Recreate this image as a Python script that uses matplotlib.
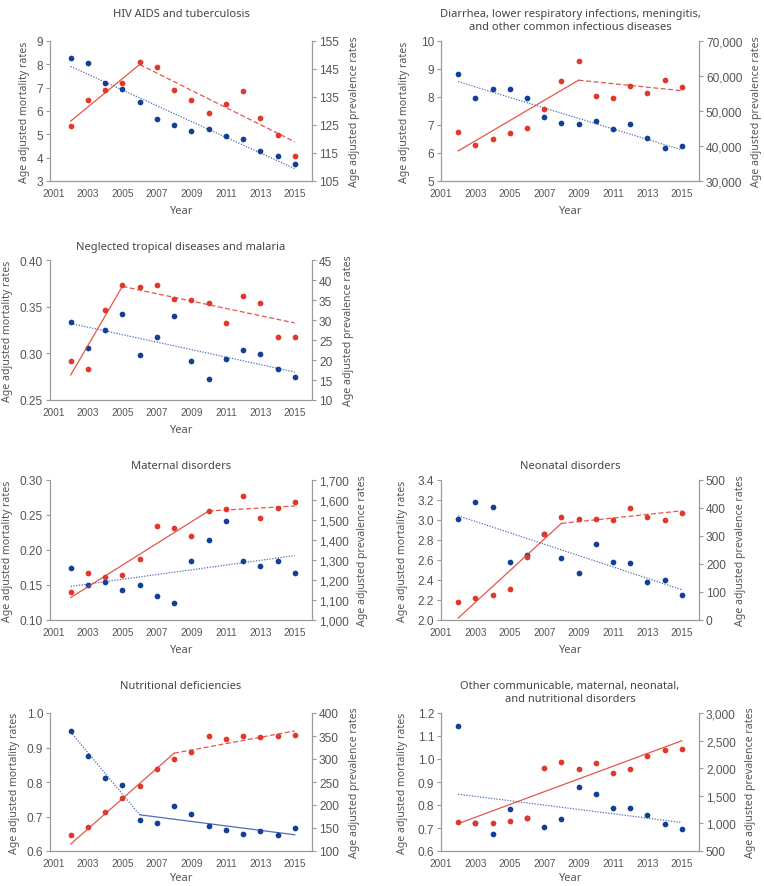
import matplotlib
matplotlib.use("Agg")
import matplotlib.pyplot as plt
from matplotlib.ticker import FuncFormatter

# years shown as points
years = [2002, 2003, 2004, 2005, 2006, 2007, 2008, 2009, 2010, 2011, 2012, 2013, 2014, 2015]
xticks = [2001, 2003, 2005, 2007, 2009, 2011, 2013, 2015]

# HIV AIDS and tuberculosis
hiv_mort = [8.28, 8.04, 7.18, 6.93, 6.40, 5.66, 5.40, 5.15, 5.23, 4.94, 4.78, 4.27, 4.09, 3.71]
hiv_prev = [124.7, 134.1, 137.4, 139.9, 147.6, 145.8, 137.4, 134.0, 129.3, 132.6, 137.2, 127.5, 121.6, 114.1]
hiv_mort_trend_x = [2002, 2015]
hiv_mort_trend = [7.91, 3.53]
hiv_prev_trend_x = [2002, 2006, 2015]
hiv_prev_trend = [126.4, 146.6, 119.0]

# Diarrhea, LRI, meningitis ...
diar_mort = [8.83, 7.96, 8.30, 8.27, 7.95, 7.30, 7.06, 7.02, 7.15, 6.87, 7.02, 6.52, 6.18, 6.25]
diar_prev = [44100, 40300, 41900, 43600, 45100, 50500, 58500, 64300, 54300, 53700, 57100, 55200, 58800, 56800]
diar_mort_trend_x = [2002, 2015]
diar_mort_trend = [8.55, 6.11]
diar_prev_trend_x = [2002, 2009, 2015]
diar_prev_trend = [38600, 58800, 55800]

# Neglected tropical diseases and malaria
ntd_mort = [0.334, 0.306, 0.325, 0.342, 0.298, 0.318, 0.340, 0.292, 0.272, 0.294, 0.304, 0.299, 0.283, 0.275]
ntd_prev = [19.8, 17.7, 32.6, 38.7, 38.3, 38.75, 35.3, 34.9, 34.25, 29.3, 36.0, 34.3, 25.75, 25.75]
ntd_mort_trend_x = [2002, 2015]
ntd_mort_trend = [0.332, 0.280]
ntd_prev_trend_x = [2002, 2005, 2015]
ntd_prev_trend = [16.25, 38.4, 29.25]

# Maternal disorders
mat_mort = [0.174, 0.150, 0.154, 0.143, 0.150, 0.134, 0.124, 0.184, 0.214, 0.242, 0.185, 0.177, 0.185, 0.167]
mat_prev = [1142, 1237, 1217, 1225, 1303, 1470, 1458, 1418, 1545, 1553, 1618, 1508, 1560, 1588]
mat_mort_trend_x = [2002, 2015]
mat_mort_trend = [0.148, 0.192]
mat_prev_trend_x = [2002, 2010, 2015]
mat_prev_trend = [1112, 1545, 1570]

# Neonatal disorders
neo_mort = [3.007, 3.177, 3.13, 2.583, 2.65, 2.86, 2.62, 2.47, 2.763, 2.577, 2.573, 2.383, 2.403, 2.25]
neo_prev = [65, 79, 89, 111, 224, 307, 369, 360, 360, 358, 399, 367, 357, 381]
neo_mort_trend_x = [2002, 2015]
neo_mort_trend = [3.043, 2.303]
neo_prev_trend_x = [2002, 2008, 2015]
neo_prev_trend = [7, 345, 390]

# Nutritional deficiencies
nut_mort = [0.947, 0.874, 0.811, 0.790, 0.691, 0.681, 0.730, 0.707, 0.673, 0.662, 0.648, 0.657, 0.647, 0.667]
nut_prev = [134, 153, 185, 214.5, 242, 279, 300, 315.5, 349, 343.4, 351, 347.7, 351, 352]
nut_mort_trend_x = [2002, 2006, 2015]
nut_mort_trend = [0.945, 0.705, 0.647]
nut_prev_trend_x = [2002, 2008, 2015]
nut_prev_trend = [115, 312.6, 361]

# Other communicable, maternal, neonatal, and nutritional disorders
oth_mort = [1.144, 0.721, 0.675, 0.784, 0.745, 0.706, 0.739, 0.877, 0.849, 0.788, 0.785, 0.757, 0.719, 0.695]
oth_prev = [1032, 1014, 1014, 1050, 1098, 2007, 2121, 1989, 2091, 1917, 1989, 2229, 2330, 2342]
oth_mort_trend_x = [2002, 2015]
oth_mort_trend = [0.847, 0.724]
oth_prev_trend_x = [2002, 2015]
oth_prev_trend = [996, 2498]

BLUE = "#143f98"
RED = "#e2382c"
GREY = "#555555"
SPINE = "#9a9a9a"
TFONT = ["Noto Sans", "DejaVu Sans"]
NFONT = ["Liberation Sans", "DejaVu Sans"]

W, H = 764, 887
fig = plt.figure(figsize=(W / 100, H / 100), dpi=100)

DOTTED = (0, (1, 1.2))
DASHED = (0, (4, 2))


def px_axes(x0, x1, top, bottom):
    return fig.add_axes([x0 / W, 1 - bottom / H, (x1 - x0) / W, (bottom - top) / H])


def fmt(dec, comma=False):
    if comma:
        return FuncFormatter(lambda v, p: f"{v:,.0f}")
    return FuncFormatter(lambda v, p: f"{v:.{dec}f}")


def panel(box, xlo, title, title_top, labx, mort, prev, mt_x, mt, pt_x, pt,
          mstyles, pstyles, lticks, rticks, ldec, rdec, rcomma=False, xpad=5):
    ax = px_axes(*box)
    ax2 = ax.twinx()
    ax.set_xlim(xlo, 2016)
    ax.set_ylim(lticks[0], lticks[-1])
    ax2.set_ylim(rticks[0], rticks[-1])

    for i in range(len(mt_x) - 1):
        ax.plot(mt_x[i:i + 2], mt[i:i + 2], color=BLUE, lw=0.9, alpha=0.75,
                linestyle=mstyles[i])
    ax.scatter(years, mort, s=17, color=BLUE, zorder=3, linewidths=0)
    for i in range(len(pt_x) - 1):
        ax2.plot(pt_x[i:i + 2], pt[i:i + 2], color=RED, lw=0.9, alpha=0.85,
                 linestyle=pstyles[i])
    ax2.scatter(years, prev, s=17, color=RED, zorder=3, linewidths=0)

    ax.set_xticks(xticks)
    ax.set_yticks(lticks)
    ax2.set_yticks(rticks)
    ax.yaxis.set_major_formatter(fmt(ldec))
    ax2.yaxis.set_major_formatter(fmt(rdec, rcomma))

    for a in (ax, ax2):
        a.spines["top"].set_visible(False)
        for s in ("left", "right", "bottom"):
            a.spines[s].set_color(SPINE)
            a.spines[s].set_linewidth(0.8)
    ax.tick_params(axis="x", length=0, pad=5, labelsize=7.2, labelcolor=GREY)
    ax.tick_params(axis="y", length=3, width=0.8, color=SPINE, pad=2,
                   labelsize=8.6, labelcolor=GREY)
    ax2.tick_params(axis="y", length=3, width=0.8, color=SPINE, pad=2,
                    labelsize=8.6, labelcolor=GREY)
    for lab in ax.get_xticklabels() + ax.get_yticklabels() + ax2.get_yticklabels():
        lab.set_family(NFONT)

    ax.set_xlabel("Year", fontsize=8, color=GREY, family=TFONT, labelpad=xpad)
    ax.set_ylabel("Age adjusted mortality rates", fontsize=7.6, color=GREY,
                  family=TFONT)
    ax2.set_ylabel("Age adjusted prevalence rates", fontsize=7.6, color=GREY,
                   family=TFONT)
    # place axis titles at the centres seen in the reference (pixels)
    wpx = box[1] - box[0]
    ax.yaxis.set_label_coords((labx[0] - box[0]) / wpx, 0.5)
    ax.yaxis.label.set_va("center")
    ax2.yaxis.set_label_coords((labx[1] - box[0]) / wpx, 0.5)
    ax2.yaxis.label.set_va("center")

    cx = (box[0] + box[1]) / 2
    fig.text(cx / W, 1 - title_top / H, title, ha="center", va="top",
             fontsize=8, color="#444444", family=TFONT, linespacing=1.25)
    return ax


L = (50, 312)
R = (441, 699)
rows = [(42, 182), (261, 401), (481, 621), (714, 852)]
ttop = [9, 242, 461, 681]

panel((*L, *rows[0]), 2000.8, "HIV AIDS and tuberculosis", ttop[0], (25, 354),
      hiv_mort, hiv_prev, hiv_mort_trend_x, hiv_mort_trend,
      hiv_prev_trend_x, hiv_prev_trend, [DOTTED], ["-", DASHED],
      [3, 4, 5, 6, 7, 8, 9], [105, 115, 125, 135, 145, 155], 0, 0)

panel((*R, *rows[0]), 2001,
      "Diarrhea, lower respiratory infections, meningitis,\nand other common infectious diseases",
      ttop[0], (405, 756), diar_mort, diar_prev, diar_mort_trend_x, diar_mort_trend,
      diar_prev_trend_x, diar_prev_trend, [DOTTED], ["-", DASHED],
      [5, 6, 7, 8, 9, 10], [30000, 40000, 50000, 60000, 70000], 0, 0, True)

panel((*L, *rows[1]), 2000.8, "Neglected tropical diseases and malaria", ttop[1],
      (8, 348), ntd_mort, ntd_prev, ntd_mort_trend_x, ntd_mort_trend,
      ntd_prev_trend_x, ntd_prev_trend, [DOTTED], ["-", DASHED],
      [0.25, 0.30, 0.35, 0.40], [10, 15, 20, 25, 30, 35, 40, 45], 2, 0)

panel((*L, *rows[2]), 2000.8, "Maternal disorders", ttop[2], (8, 363),
      mat_mort, mat_prev, mat_mort_trend_x, mat_mort_trend,
      mat_prev_trend_x, mat_prev_trend, [DOTTED], ["-", DASHED],
      [0.10, 0.15, 0.20, 0.25, 0.30],
      [1000, 1100, 1200, 1300, 1400, 1500, 1600, 1700], 2, 0, True)

panel((*R, *rows[2]), 2001, "Neonatal disorders", ttop[2], (402, 740),
      neo_mort, neo_prev, neo_mort_trend_x, neo_mort_trend,
      neo_prev_trend_x, neo_prev_trend, [DOTTED], ["-", DASHED],
      [2.0, 2.2, 2.4, 2.6, 2.8, 3.0, 3.2, 3.4], [0, 100, 200, 300, 400, 500], 1, 0)

panel((*L, *rows[3]), 2000.8, "Nutritional deficiencies", ttop[3], (15, 354),
      nut_mort, nut_prev, nut_mort_trend_x, nut_mort_trend,
      nut_prev_trend_x, nut_prev_trend, [DOTTED, "-"], ["-", DASHED],
      [0.6, 0.7, 0.8, 0.9, 1.0], [100, 150, 200, 250, 300, 350, 400], 1, 0,
      xpad=3)

panel((*R, *rows[3]), 2001,
      "Other communicable, maternal, neonatal,\nand nutritional disorders", ttop[3],
      (402, 750), oth_mort, oth_prev, oth_mort_trend_x, oth_mort_trend,
      oth_prev_trend_x, oth_prev_trend, [DOTTED], ["-"],
      [0.6, 0.7, 0.8, 0.9, 1.0, 1.1, 1.2],
      [500, 1000, 1500, 2000, 2500, 3000], 1, 0, True, xpad=3)

fig.savefig("out.png", dpi=100)
